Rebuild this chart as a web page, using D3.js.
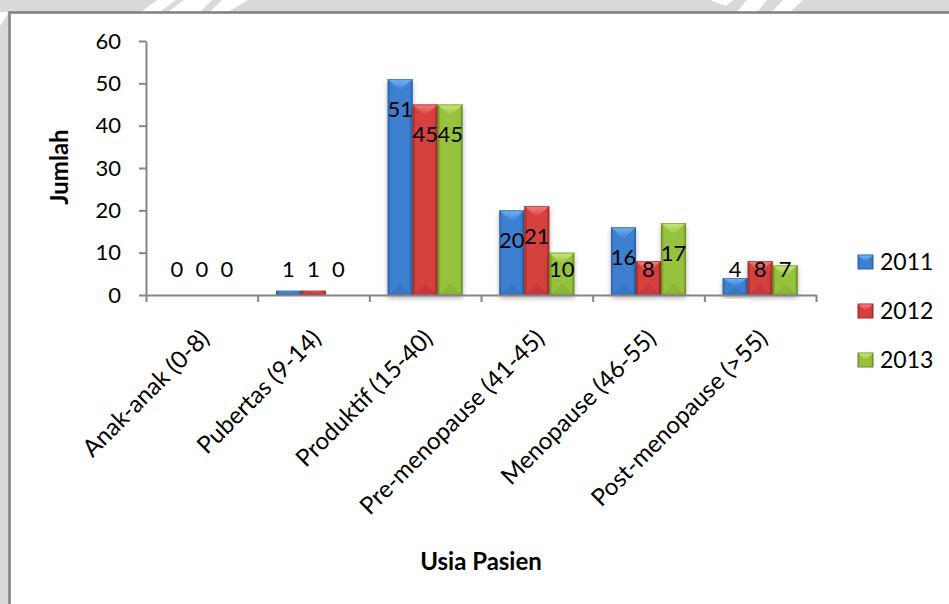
<!DOCTYPE html>
<html>
<head>
<meta charset="utf-8">
<script src="https://cdn.jsdelivr.net/npm/d3@7"></script>
<style>
  html, body { margin: 0; padding: 0; background: #d9d9d9; }
  svg { display: block; }
  text { font-family: Lato, "Open Sans", "Noto Sans", sans-serif; fill: #000; }
</style>
</head>
<body>
<svg id="chart" width="949" height="604"></svg>
<script>
// Patient counts per age group, by year
const categories = ["Anak-anak (0-8)", "Pubertas (9-14)", "Produktif (15-40)", "Pre-menopause (41-45)", "Menopause (46-55)", "Post-menopause (>55)"];
const years = ["2011", "2012", "2013"];
const values2011 = [0, 1, 51, 20, 16, 4];
const values2012 = [0, 1, 45, 21, 8, 8];
const values2013 = [0, 0, 45, 10, 17, 7];
const yTicks = [0, 10, 20, 30, 40, 50, 60];
const yTitle = "Jumlah";
const xTitle = "Usia Pasien";

const seriesValues = [values2011, values2012, values2013];

// bevel shades for each series
const palette = {
  "2011": { edge: "#2b62a8", body: "#3c80d2", light: "#78b2f2", base: "#3473c0" },
  "2012": { edge: "#a02c2a", body: "#d63f3d", light: "#f08280", base: "#c23735" },
  "2013": { edge: "#6c8d25", body: "#97c23c", light: "#cae87f", base: "#88b033" }
};

const svg = d3.select("#chart");
const defs = svg.append("defs");

// drop shadow under the bars
const shadow = defs.append("filter").attr("id", "barShadow")
  .attr("x", "-30%").attr("y", "-10%").attr("width", "160%").attr("height", "130%");
shadow.append("feDropShadow").attr("dx", 0).attr("dy", 3).attr("stdDeviation", 2.5)
  .attr("flood-color", "#000").attr("flood-opacity", 0.3);

years.forEach(yr => {
  const c = palette[yr];
  const body = defs.append("linearGradient").attr("id", "body" + yr)
    .attr("x1", 0).attr("x2", 1).attr("y1", 0).attr("y2", 0);
  [[0, c.edge], [0.12, c.body], [0.88, c.body], [1, c.edge]].forEach(([o, col]) =>
    body.append("stop").attr("offset", o).attr("stop-color", col));
  const top = defs.append("linearGradient").attr("id", "top" + yr)
    .attr("x1", 0).attr("x2", 0).attr("y1", 0).attr("y2", 1);
  [[0, c.light], [1, c.body]].forEach(([o, col]) =>
    top.append("stop").attr("offset", o).attr("stop-color", col));
});

// page background and chart frame
svg.append("rect").attr("width", 949).attr("height", 604).attr("fill", "#d9d9d9");
const streaks = [
  [[0, 12], [9, 12], [0, 26]],
  [[141, 12], [160, 12], [176, 0], [157, 0]],
  [[168, 12], [200, 12], [212, 0], [184, 0]],
  [[210, 12], [228, 12], [248, 0], [222, 0]],
  [[710, 0], [733, 0], [726, 6]],
  [[737, 12], [757, 12], [767, 0], [747, 0]],
  [[772, 12], [790, 12], [803, 0], [783, 0]]
];
svg.selectAll("polygon.streak").data(streaks).join("polygon")
  .attr("class", "streak")
  .attr("points", d => d.map(p => p.join(",")).join(" "))
  .attr("fill", "#ffffff");
svg.append("rect").attr("x", 9.5).attr("y", 12.5).attr("width", 960).attr("height", 620)
  .attr("fill", "#ffffff").attr("stroke", "#7f7f7f").attr("stroke-width", 2.5);

// scales
const x = d3.scaleBand().domain(categories).range([146, 816]).paddingInner(0).paddingOuter(0);
const xs = d3.scaleBand().domain(years).range([0, x.bandwidth()]).paddingInner(0).paddingOuter(0.733);
const y = d3.scaleLinear().domain([0, 60]).range([295, 41]);
const xIdx = d3.scaleLinear().domain([0, categories.length]).range(x.range());

// bars
const bars = [];
categories.forEach((cat, i) => {
  years.forEach((yr, s) => {
    bars.push({ cat, yr, v: seriesValues[s][i] });
  });
});

const barG = svg.append("g");
const barNodes = barG.selectAll("g.bar").data(bars.filter(d => d.v > 0)).join("g")
  .attr("class", "bar")
  .attr("filter", "url(#barShadow)");

barNodes.each(function (d) {
  const g = d3.select(this);
  const x0 = x(d.cat) + xs(d.yr);
  const w = xs.bandwidth();
  const yTop = y(d.v);
  const yBot = y(0);
  const h = yBot - yTop;
  const depth = Math.min(w * 0.45, h / 2);
  const c = palette[d.yr];
  g.append("rect").attr("x", x0).attr("y", yTop).attr("width", w).attr("height", h)
    .attr("fill", `url(#body${d.yr})`);
  g.append("polygon")
    .attr("points", [[x0, yTop], [x0 + w, yTop], [x0 + w / 2, yTop + depth]].map(p => p.join(",")).join(" "))
    .attr("fill", `url(#top${d.yr})`);
  g.append("polygon")
    .attr("points", [[x0 + 1, yBot], [x0 + w - 1, yBot], [x0 + w / 2, yBot - depth]].map(p => p.join(",")).join(" "))
    .attr("fill", c.base).attr("opacity", 0.7);
  g.append("rect").attr("x", x0 + 0.5).attr("y", yTop + 0.5).attr("width", w - 1).attr("height", Math.max(h - 1, 0))
    .attr("fill", "none").attr("stroke", c.edge).attr("stroke-width", 1).attr("opacity", 0.6);
});

// axes
const axisColor = "#868686";
const yAxis = svg.append("g").attr("transform", "translate(146,0)")
  .call(d3.axisLeft(y).tickValues(yTicks).tickSizeInner(7).tickSizeOuter(0).tickPadding(18));
const xAxis = svg.append("g").attr("transform", `translate(0,${y(0)})`)
  .call(d3.axisBottom(xIdx).tickValues(d3.range(categories.length + 1)).tickFormat("").tickSizeInner(7).tickSizeOuter(0));
[yAxis, xAxis].forEach(a => {
  a.selectAll("path, line").attr("stroke", axisColor).attr("stroke-width", 2);
});
yAxis.selectAll("text").attr("font-size", 22).attr("fill", "#000")
  .style("font-family", "Lato, 'Open Sans', sans-serif");

// category labels, rotated
svg.append("g").selectAll("text").data(categories).join("text")
  .attr("transform", d => `translate(${x(d) + x.bandwidth() / 2 + 3},334) rotate(-45)`)
  .attr("text-anchor", "end").attr("dy", "0.35em")
  .attr("font-size", 24)
  .text(d => d);

// value labels: near the top inside the bar, kept above the axis
const labelFloor = y(0) - 26;
svg.append("g").selectAll("text").data(bars).join("text")
  .attr("x", d => x(d.cat) + xs(d.yr) + xs.bandwidth() / 2)
  .attr("y", d => Math.min(y(d.v) + 30, labelFloor))
  .attr("text-anchor", "middle").attr("dy", "0.35em")
  .attr("font-size", 22)
  .text(d => d.v);

// axis titles
svg.append("text").attr("transform", "translate(60,167) rotate(-90)")
  .attr("text-anchor", "middle").attr("dy", "0.35em")
  .attr("font-size", 24).attr("font-weight", "bold").text(yTitle);
svg.append("text").attr("x", 481).attr("y", 562)
  .attr("text-anchor", "middle").attr("dy", "0.35em")
  .attr("font-size", 24).attr("font-weight", "bold").text(xTitle);

// legend
const legend = svg.append("g").selectAll("g").data(years).join("g")
  .attr("transform", (d, i) => `translate(858,${262 + i * 49})`);
legend.each(function (yr) {
  const g = d3.select(this);
  const c = palette[yr];
  g.append("rect").attr("x", 0).attr("y", -7).attr("width", 15).attr("height", 14)
    .attr("fill", `url(#body${yr})`).attr("stroke", c.edge).attr("stroke-width", 1);
  g.append("polygon").attr("points", "0.5,-6.5 14.5,-6.5 7.5,0").attr("fill", `url(#top${yr})`);
  g.append("text").attr("x", 22).attr("dy", "0.35em").attr("font-size", 23).text(yr);
});
</script>
</body>
</html>
